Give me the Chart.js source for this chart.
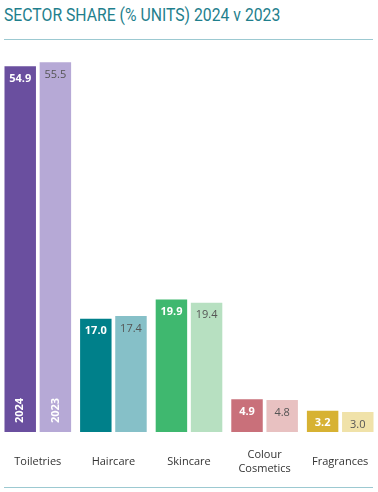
<!DOCTYPE html>
<html>
<head>
<meta charset="utf-8">
<script src="https://cdn.jsdelivr.net/npm/chart.js@4"></script>
<style>
  html, body { margin: 0; padding: 0; background: #ffffff; }
  body { width: 378px; height: 492px; position: relative; overflow: hidden; }
  #titulo {
    position: absolute; left: 4px; top: 4px;
    font-family: Roboto, sans-serif;
    font-size: 18.5px; color: #1f7f8d; white-space: nowrap;
    transform-origin: left center; display: inline-block;
  }
  .linha { position: absolute; left: 4px; width: 369px; height: 1px; background: #9cc9d1; }
  #grafico-box { position: absolute; left: 0; top: 40px; width: 378px; height: 448px; }
</style>
</head>
<body>
<div id="titulo">SECTOR SHARE (% UNITS) 2024 v 2023</div>
<div class="linha" style="top:39px"></div>
<div id="grafico-box"><canvas id="grafico"></canvas></div>
<div class="linha" style="top:487px"></div>
<script>
const categorias = ['Toiletries', 'Haircare', 'Skincare', ['Colour', 'Cosmetics'], 'Fragrances'];
const anos = ['2024', '2023'];
const valores2024 = [54.9, 17.0, 19.9, 4.9, 3.2];
const valores2023 = [55.5, 17.4, 19.4, 4.8, 3.0];
const cores2024 = ['#6a4f9f', '#00808a', '#3fb86f', '#c9707a', '#d7b233'];
const cores2023 = ['#b6a9d6', '#86c0c8', '#b7e0c1', '#e8c1c1', '#f0e2a9'];

// titulo condensado (nao ha fonte condensada instalada)
const titulo = document.getElementById('titulo');
titulo.style.transform = 'scaleX(' + (276 / titulo.offsetWidth) + ')';

// desenha os valores e os anos dentro das barras
const rotulosBarras = {
    id: 'rotulosBarras',
    afterDatasetsDraw(chart) {
        const ctx = chart.ctx;
        ctx.save();
        chart.data.datasets.forEach((ds, i) => {
            const meta = chart.getDatasetMeta(i);
            meta.data.forEach((barra, j) => {
                const valor = ds.data[j].toFixed(1);
                ctx.textAlign = 'center';
                ctx.textBaseline = 'middle';
                if (i === 0) {
                    ctx.font = 'bold 11px "Open Sans", sans-serif';
                    ctx.fillStyle = '#ffffff';
                } else {
                    ctx.font = '11px "Open Sans", sans-serif';
                    ctx.fillStyle = '#555555';
                }
                ctx.fillText(valor, barra.x, barra.y + 12.5);

                // ano so na primeira categoria
                if (j === 0) {
                    ctx.save();
                    ctx.translate(barra.x, barra.base - 21.5);
                    ctx.rotate(-Math.PI / 2);
                    ctx.font = 'bold 11px "Open Sans", sans-serif';
                    ctx.fillStyle = '#ffffff';
                    ctx.fillText(anos[i], 0, 0);
                    ctx.restore();
                }
            });
        });
        ctx.restore();
    }
};

new Chart(document.getElementById('grafico').getContext('2d'), {
    type: 'bar',
    data: {
        labels: categorias,
        datasets: [
            { label: anos[0], data: valores2024, backgroundColor: cores2024 },
            { label: anos[1], data: valores2023, backgroundColor: cores2023 }
        ]
    },
    options: {
        responsive: true,
        maintainAspectRatio: false,
        animation: false,
        layout: { padding: { top: 19, left: 0, right: 0, bottom: 0 } },
        datasets: {
            bar: { categoryPercentage: 0.93, barPercentage: 0.895, borderWidth: 0 }
        },
        plugins: {
            legend: { display: false },
            tooltip: { enabled: false }
        },
        scales: {
            x: {
                grid: { display: false, drawTicks: true, tickLength: 19 },
                border: { display: false },
                ticks: {
                    color: '#333333',
                    font: { family: '"Open Sans", sans-serif', size: 11, lineHeight: 1.3 },
                    padding: 3.5,
                    crossAlign: 'center',
                    maxRotation: 0,
                    autoSkip: false
                },
                afterFit(scale) { scale.height = 56; }
            },
            y: {
                display: false,
                min: 0,
                max: 56
            }
        }
    },
    plugins: [rotulosBarras]
});
</script>
</body>
</html>
